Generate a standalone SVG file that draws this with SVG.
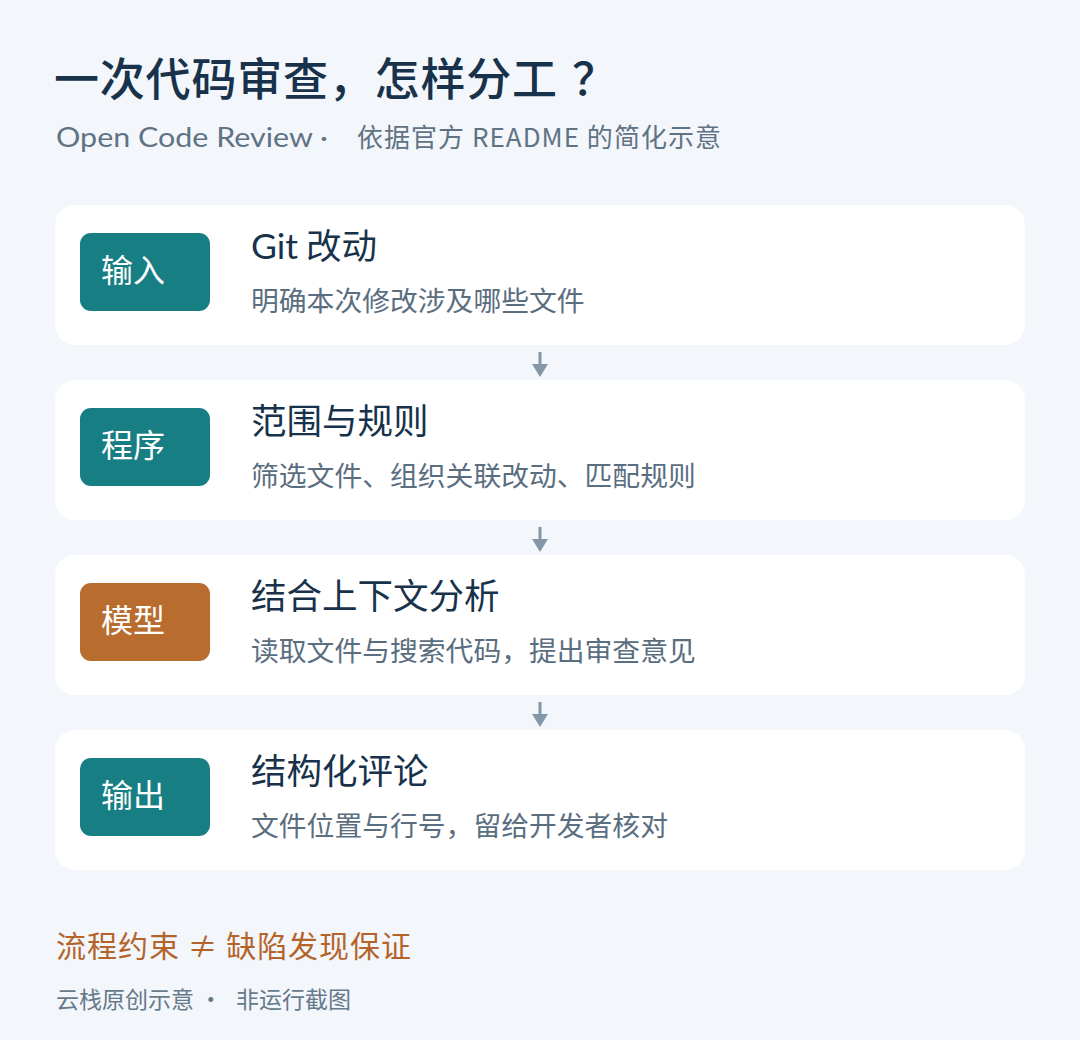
<svg xmlns="http://www.w3.org/2000/svg" width="1080" height="1040" viewBox="0 0 1080 1040">
<defs>
<style>
.bg{fill:#F3F6FA}
.card{fill:#FFFFFF}
.badge-teal{fill:#177E83}
.badge-orange{fill:#B86C2E}
.cjk{font-family:"Noto Sans CJK SC","Noto Sans",sans-serif}
.badge-text{font-family:"Noto Sans CJK SC","Noto Sans",sans-serif;font-size:32px;fill:#FFFFFF}
.node-title{font-family:"Noto Sans CJK SC","Noto Sans",sans-serif;font-size:35.5px;fill:#17324A}
.node-sub{font-family:"Noto Sans CJK SC","Noto Sans",sans-serif;font-size:27.8px;fill:#5A6E80}
.arrow{stroke:#8397A8;stroke-width:3;fill:none}
.head{fill:#8397A8}
</style>
</defs>
<rect class="bg" x="0" y="0" width="1080" height="1040"/>
<text class="cjk" x="54" y="96" font-size="45" font-weight="500" fill="#17324A" letter-spacing="0.8">一次代码审查，怎样分工<tspan x="572">？</tspan></text>
<text x="56" y="147" font-family="Lato,'Noto Sans CJK SC',sans-serif" font-size="27" fill="#5F7384" textLength="272" lengthAdjust="spacingAndGlyphs">Open Code Review ·</text>
<text class="cjk" x="357" y="147" font-size="26" fill="#5F7384" textLength="364">依据官方 README 的简化示意</text>

<g id="connectors">
<line class="arrow" x1="540" y1="352" x2="540" y2="366"/>
<path class="head" d="M532 364 L548 364 L540 377 Z"/>
<line class="arrow" x1="540" y1="527" x2="540" y2="541"/>
<path class="head" d="M532 539 L548 539 L540 552 Z"/>
<line class="arrow" x1="540" y1="702" x2="540" y2="716"/>
<path class="head" d="M532 714 L548 714 L540 727 Z"/>
</g>

<g id="node-input">
<rect class="card" x="55" y="205" width="970" height="140" rx="20"/>
<rect class="badge-teal" x="80" y="233" width="130" height="78" rx="11"/>
<text class="badge-text" x="101" y="282">输入</text>
<text class="node-title" x="251" y="259"><tspan font-family="Lato,'Noto Sans CJK SC',sans-serif">Git</tspan> 改动</text>
<text class="node-sub" x="251" y="311">明确本次修改涉及哪些文件</text>
</g>

<g id="node-program">
<rect class="card" x="55" y="380" width="970" height="140" rx="20"/>
<rect class="badge-teal" x="80" y="408" width="130" height="78" rx="11"/>
<text class="badge-text" x="101" y="457">程序</text>
<text class="node-title" x="251" y="434">范围与规则</text>
<text class="node-sub" x="251" y="486">筛选文件、组织关联改动、匹配规则</text>
</g>

<g id="node-model">
<rect class="card" x="55" y="555" width="970" height="140" rx="20"/>
<rect class="badge-orange" x="80" y="583" width="130" height="78" rx="11"/>
<text class="badge-text" x="101" y="632">模型</text>
<text class="node-title" x="251" y="609">结合上下文分析</text>
<text class="node-sub" x="251" y="661">读取文件与搜索代码，提出审查意见</text>
</g>

<g id="node-output">
<rect class="card" x="55" y="730" width="970" height="140" rx="20"/>
<rect class="badge-teal" x="80" y="758" width="130" height="78" rx="11"/>
<text class="badge-text" x="101" y="807">输出</text>
<text class="node-title" x="251" y="784">结构化评论</text>
<text class="node-sub" x="251" y="836">文件位置与行号，留给开发者核对</text>
</g>

<text class="cjk" x="56" y="957" font-size="30" fill="#B4642A" textLength="355">流程约束 ≠ 缺陷发现保证</text>
<text class="cjk" x="56" y="1008" font-size="23" fill="#667A8A">云栈原创示意 ·</text>
<text class="cjk" x="236" y="1008" font-size="23" fill="#667A8A">非运行截图</text>
</svg>
